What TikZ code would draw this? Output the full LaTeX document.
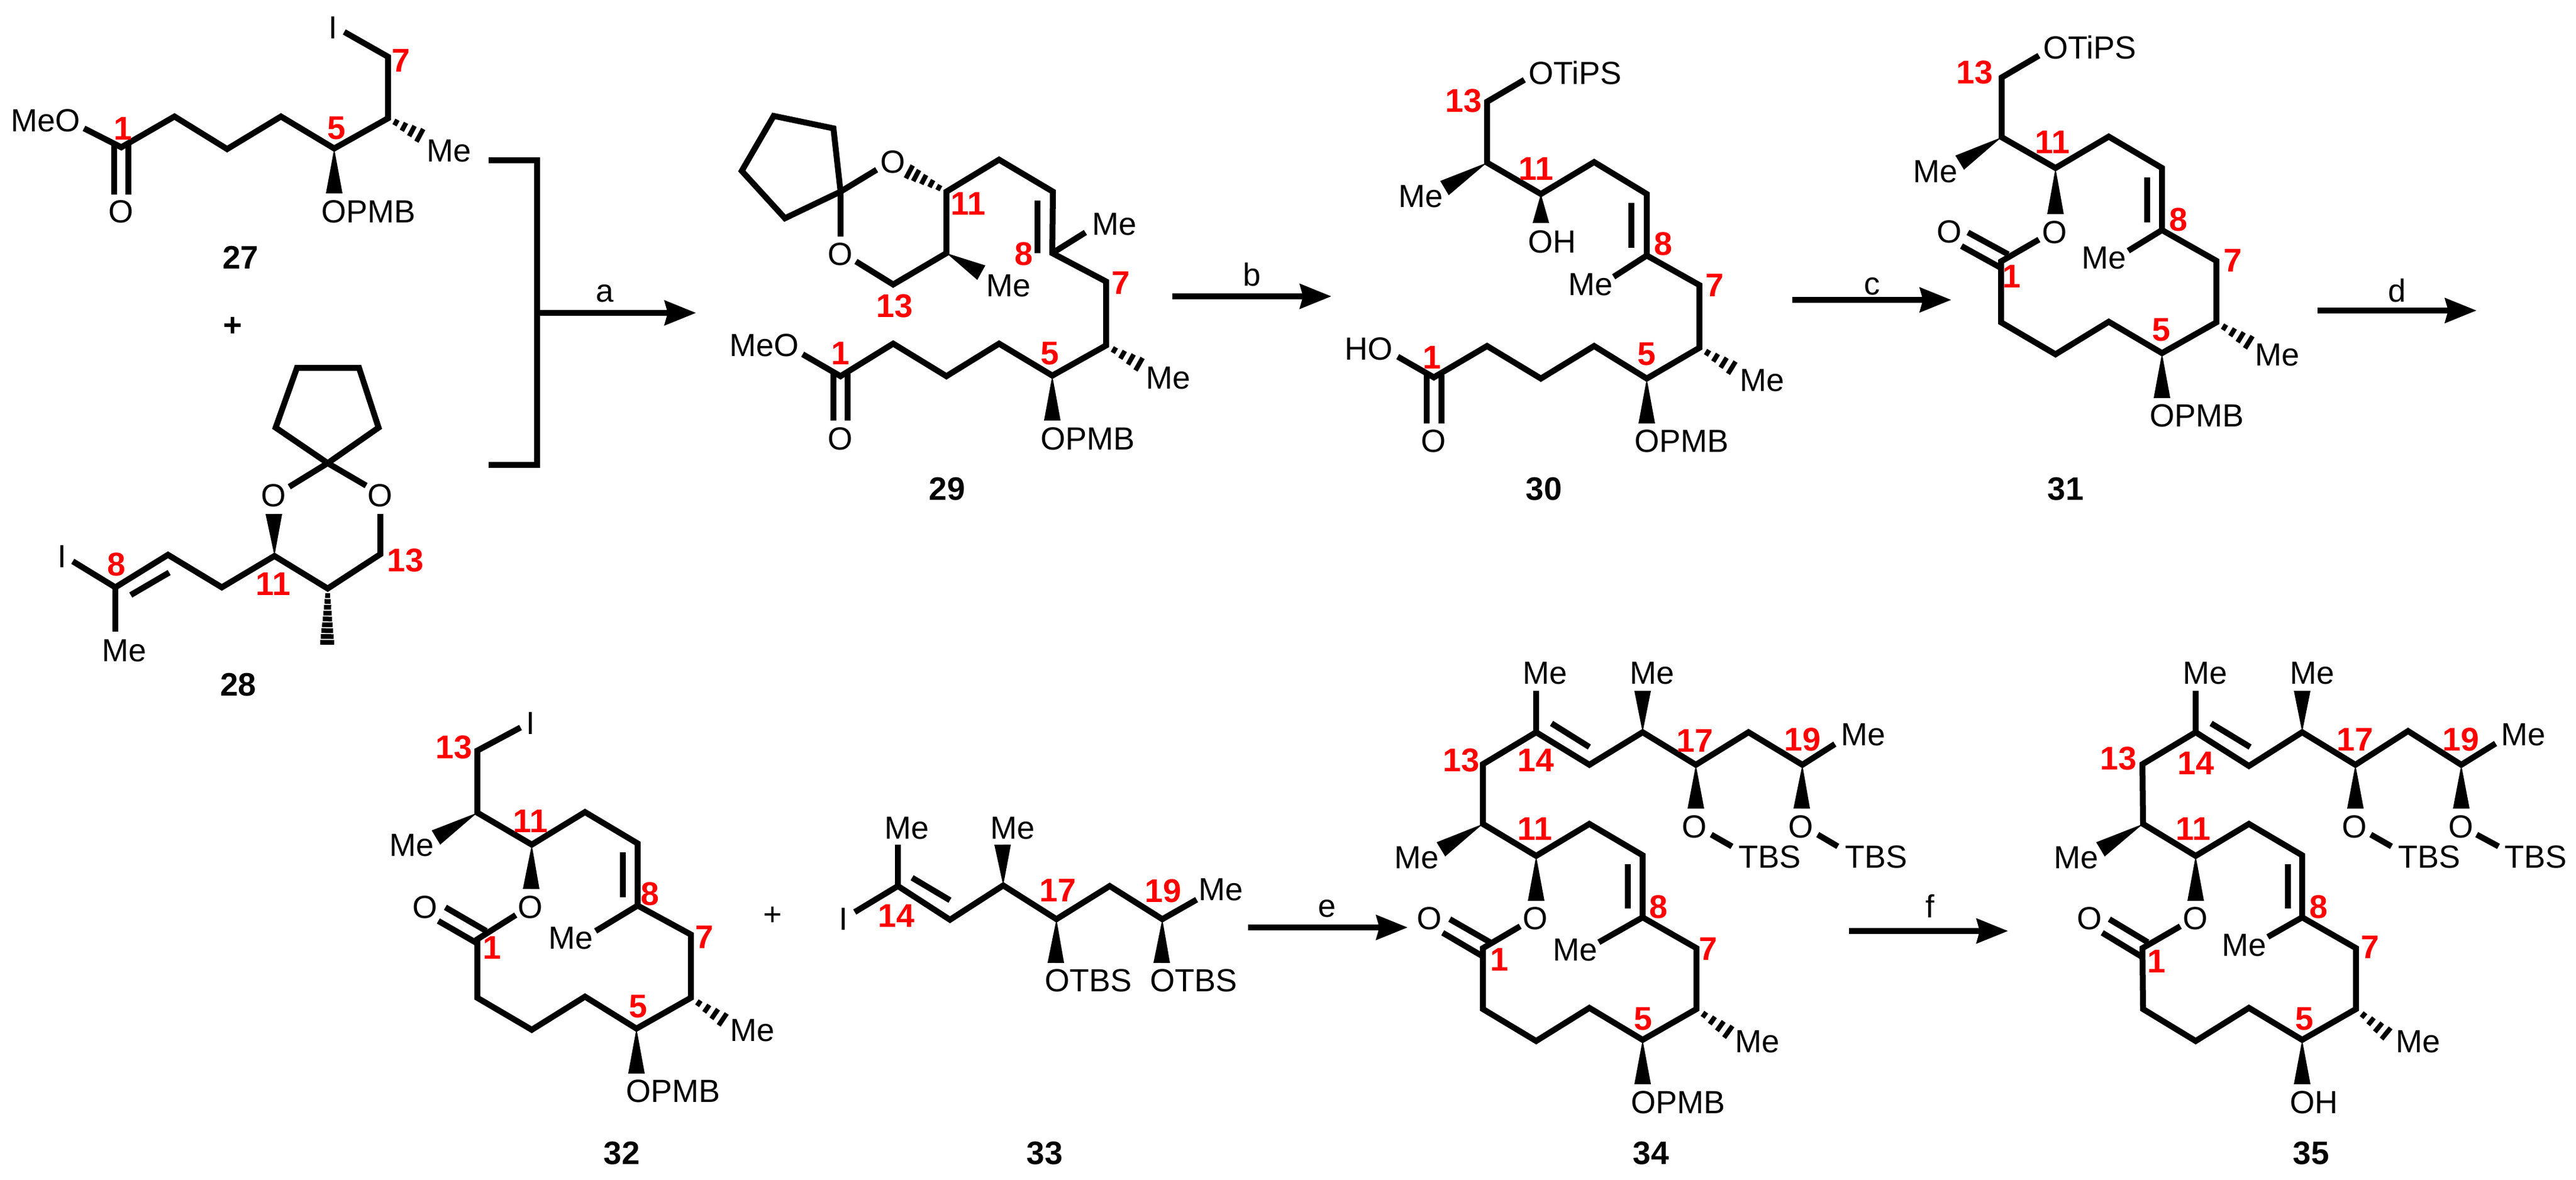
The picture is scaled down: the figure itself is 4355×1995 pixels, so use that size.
\documentclass[tikz,border=0pt]{standalone}
\usepackage{fontspec}
\setmainfont{Liberation Sans}
\usetikzlibrary{calc,arrows.meta}
\definecolor{numred}{RGB}{255,0,0}
\tikzset{
  bond/.style={line width=0.1cm,line join=miter,line cap=butt,black},
  hashline/.style={line width=0.08cm,black},
  rxn/.style={line width=0.1cm,black,-{Stealth[length=0.53cm,width=0.41cm,inset=0.05cm]}},
  bracket/.style={line width=0.1cm,black,line join=miter},
  atom/.style={inner sep=0pt,font=\fontsize{15.4}{16}\selectfont},
  num/.style={inner sep=0pt,text=numred,font=\fontsize{15.8}{16}\selectfont\bfseries},
  cmpd/.style={inner sep=0pt,font=\fontsize{15.6}{16}\selectfont\bfseries},
  cond/.style={inner sep=0pt,font=\fontsize{15.4}{16}\selectfont},
}
\newcommand\atm[3]{\node[atom] (#1) at (#2) {#3};}
\newcommand\nm[3]{\node[num] (#1) at (#2) {#3};}
\newcommand\wdg[2]{\fill[black] (#1) -- ($(#2)!0.14cm!90:(#1)$) -- ($(#2)!0.14cm!-90:(#1)$) -- cycle;}
\newcommand\hsh[3][0.24,0.48,0.72,0.96]{\foreach \t in {#1}{%
  \coordinate (hc) at ($(#2)!\t!(#3)$);
  \draw[hashline] ($(hc)!{(0.03+0.095*\t)*1cm}!90:(#3)$) -- ($(hc)!{(0.03+0.095*\t)*1cm}!-90:(#3)$);}}
\begin{document}
\begin{tikzpicture}[x=0.01cm,y=-0.01cm]
\fill[white] (0,0) rectangle (4355,1995);
\useasboundingbox (0,0) rectangle (4355,1995);

%% 27
\draw[bond] (582,54) -- (656,96) -- (656,200) -- (565,251) -- (475,197) -- (384,252) -- (295,197) -- (205,249) -- (142,217);
\draw[bond] (193,245) -- (193,329);
\draw[bond] (217,245) -- (217,329);
\wdg{565,251}{565,327}
\hsh{656,200}{712,230}
\atm{a27i}{563,47}{I}
\atm{a27me}{759,255}{Me}
\atm{a27meo}{77,204}{MeO}
\atm{a27o}{205,358}{O}
\atm{a27opmb}{623,358}{OPMB}
\nm{n27a}{208,217}{1}
\nm{n27b}{569,217}{5}
\nm{n27c}{678,102}{7}
\node[cmpd] (c27) at (407,435) {27};
\node[cmpd] (plus1) at (394,552) {+};

%% 28
\draw[bond] (554,783) -- (466,723) -- (502,622) -- (607,622) -- (640,723) -- cycle;
\draw[bond] (489,823) -- (554,783) -- (619,821);
\draw[bond] (643,869) -- (643,937) -- (554,995) -- (464,940) -- (375,993) -- (284,938) -- (195,993) -- (123,949);
\draw[bond] (195,993) -- (195,1068);
\draw[bond] (221,1006) -- (286,968);
\wdg{464,940}{463,869}
\hsh[0.12,0.22,...,0.98]{554,995}{553,1094}
\atm{a28ol}{463,838}{O}
\atm{a28or}{643,838}{O}
\atm{a28i}{105,941}{I}
\atm{a28me}{210,1100}{Me}
\nm{n28a}{197,954}{8}
\nm{n28b}{462,987}{11}
\nm{n28c}{685,947}{13}
\node[cmpd] (c28) at (403,1158) {28};

%% bracket and arrow a
\coordinate (brt) at (826,271);
\coordinate (brtc) at (908,271);
\coordinate (brb) at (826,786);
\coordinate (brbc) at (908,786);
\draw[bracket] (brt) -- (brtc) -- (brbc) -- (brb);
\coordinate (as) at (908,529);
\coordinate (at) at (1177,529);
\draw[rxn] (as) -- (at);
\node[cond] (la) at (1023,496) {a};

%% 29
\draw[bond] (1421,324) -- (1409,217) -- (1308,196) -- (1254,289) -- (1327,369) -- cycle;
\draw[bond] (1482,287) -- (1421,324) -- (1421,400);
\draw[bond] (1447,442) -- (1510,481) -- (1600,428) -- (1600,324) -- (1689,270) -- (1780,324) -- (1779,428) -- (1870,476) -- (1870,584) -- (1779,635) -- (1689,581) -- (1600,636) -- (1510,581) -- (1421,636) -- (1357,599);
\draw[bond] (1779,428) -- (1835,393);
\draw[bond] (1754,339) -- (1754,428);
\draw[bond] (1409,632) -- (1409,711);
\draw[bond] (1433,632) -- (1433,711);
\hsh[0.2,0.4,0.6,0.8,0.98]{1600,324}{1536,290}
\hsh{1870,584}{1928,617}
\wdg{1600,428}{1659,461}
\wdg{1779,635}{1779,711}
\atm{a29ot}{1510,274}{O}
\atm{a29ob}{1421,430}{O}
\atm{a29me1}{1884,379}{Me}
\atm{a29me2}{1705,483}{Me}
\atm{a29me3}{1975,639}{Me}
\atm{a29meo}{1292,584}{MeO}
\atm{a29o}{1421,742}{O}
\atm{a29opmb}{1839,742}{OPMB}
\nm{n29a}{1637,344}{11}
\nm{n29b}{1731,429}{8}
\nm{n29c}{1895,478}{7}
\nm{n29d}{1512,517}{13}
\nm{n29e}{1421,597}{1}
\nm{n29f}{1775,598}{5}
\node[cmpd] (c29) at (1601,827) {29};

%% arrow b
\coordinate (bs) at (1982,501);
\coordinate (bt) at (2251,501);
\draw[rxn] (bs) -- (bt);
\node[cond] (lb) at (2117,464) {b};

%% 30
\draw[bond] (2577,135) -- (2514,172) -- (2514,275) -- (2605,328) -- (2695,274) -- (2784,328) -- (2784,432) -- (2873,482) -- (2873,588) -- (2784,640) -- (2695,585) -- (2605,640) -- (2514,585) -- (2424,638) -- (2363,603);
\draw[bond] (2784,432) -- (2728,468);
\draw[bond] (2758,343) -- (2758,419);
\draw[bond] (2412,634) -- (2412,716);
\draw[bond] (2437,634) -- (2437,716);
\wdg{2514,275}{2442,318}
\wdg{2605,328}{2605,377}
\wdg{2784,640}{2784,716}
\hsh{2873,588}{2930,623}
\atm{a30tips}{2663,123}{OTiPS}
\atm{a30me1}{2402,332}{Me}
\atm{a30oh}{2624,409}{OH}
\atm{a30me2}{2689,481}{Me}
\atm{a30me3}{2979,643}{Me}
\atm{a30ho}{2314,590}{HO}
\atm{a30o}{2424,746}{O}
\atm{a30opmb}{2843,746}{OPMB}
\nm{n30a}{2474,170}{13}
\nm{n30b}{2597,285}{11}
\nm{n30c}{2812,412}{8}
\nm{n30d}{2899,482}{7}
\nm{n30e}{2784,599}{5}
\nm{n30f}{2421,604}{1}
\node[cmpd] (c30) at (2610,827) {30};

%% arrow c
\coordinate (cs) at (3030,507);
\coordinate (ct) at (3299,507);
\draw[rxn] (cs) -- (ct);
\node[cond] (lc) at (3165,484) {c};

%% 31
\draw[bond] (3447,94) -- (3384,131) -- (3384,232) -- (3475,284) -- (3565,231) -- (3655,284) -- (3655,389) -- (3747,441) -- (3747,545) -- (3655,597) -- (3565,544) -- (3475,599) -- (3383,545) -- (3383,442) -- (3447,405);
\draw[bond] (3655,389) -- (3598,424);
\draw[bond] (3630,300) -- (3630,376);
\draw[bond] (3327,393) -- (3395,430);
\draw[bond] (3316,416) -- (3383,453);
\wdg{3384,232}{3313,275}
\wdg{3475,284}{3475,362}
\wdg{3655,597}{3655,673}
\hsh{3747,545}{3804,580}
\atm{a31tips}{3533,80}{OTiPS}
\atm{a31me1}{3272,290}{Me}
\atm{a31oe}{3474,393}{O}
\atm{a31o}{3296,392}{O}
\atm{a31me2}{3557,436}{Me}
\atm{a31me3}{3850,600}{Me}
\atm{a31opmb}{3714,703}{OPMB}
\nm{n31a}{3338,122}{13}
\nm{n31b}{3470,240}{11}
\nm{n31c}{3683,371}{8}
\nm{n31d}{3775,440}{7}
\nm{n31e}{3654,558}{5}
\nm{n31f}{3401,467}{1}
\node[cmpd] (c31) at (3492,827) {31};

%% arrow d
\coordinate (ds) at (3918,525);
\coordinate (dt) at (4187,525);
\draw[rxn] (ds) -- (dt);
\node[cond] (ld) at (4052,491) {d};

%% 32
\draw[bond] (880,1230) -- (807,1269) -- (807,1374) -- (899,1428) -- (989,1373) -- (1078,1426) -- (1078,1531) -- (1168,1580) -- (1168,1687) -- (1076,1739) -- (989,1685) -- (899,1741) -- (807,1687) -- (807,1588) -- (872,1547);
\draw[bond] (1078,1531) -- (1007,1574);
\draw[bond] (1053,1441) -- (1053,1517);
\draw[bond] (753,1534) -- (822,1574);
\draw[bond] (741,1557) -- (807,1595);
\wdg{807,1374}{737,1416}
\wdg{899,1428}{898,1503}
\wdg{1076,1739}{1076,1815}
\hsh{1168,1687}{1224,1725}
\atm{a32i}{897,1223}{I}
\atm{a32me1}{696,1429}{Me}
\atm{a32oe}{897,1534}{O}
\atm{a32o}{719,1534}{O}
\atm{a32me2}{965,1586}{Me}
\atm{a32me3}{1272,1742}{Me}
\atm{a32opmb}{1138,1845}{OPMB}
\nm{n32a}{767,1263}{13}
\nm{n32b}{897,1388}{11}
\nm{n32c}{1099,1511}{8}
\nm{n32d}{1191,1584}{7}
\nm{n32e}{1079,1702}{5}
\nm{n32f}{832,1602}{1}
\node[cmpd] (c32) at (1051,1950) {32};
\node[atom] (plus2) at (1306,1549) {+};

%% 33
\draw[bond] (1445,1542) -- (1518,1498) -- (1606,1555) -- (1696,1497) -- (1786,1554) -- (1876,1498) -- (1965,1554) -- (2023,1521);
\draw[bond] (1518,1498) -- (1518,1428);
\draw[bond] (1542,1484) -- (1606,1522);
\wdg{1696,1497}{1695,1428}
\wdg{1786,1554}{1785,1628}
\wdg{1965,1554}{1964,1628}
\atm{a33i}{1426,1554}{I}
\atm{a33me1}{1533,1400}{Me}
\atm{a33me2}{1712,1400}{Me}
\atm{a33me3}{2064,1504}{Me}
\atm{a33otbs1}{1840,1658}{OTBS}
\atm{a33otbs2}{2018,1658}{OTBS}
\nm{n33a}{1515,1548}{14}
\nm{n33b}{1788,1505}{17}
\nm{n33c}{1966,1506}{19}
\node[cmpd] (c33) at (1766,1950) {33};

%% arrow e
\coordinate (es) at (2110,1568);
\coordinate (et) at (2380,1568);
\draw[rxn] (es) -- (et);
\node[cond] (le) at (2244,1536) {e};

%% 34
\draw[bond] (2570,1566) -- (2507,1603) -- (2507,1706) -- (2597,1760) -- (2687,1704) -- (2777,1758) -- (2868,1706) -- (2868,1603) -- (2777,1551) -- (2777,1446) -- (2687,1393) -- (2597,1447) -- (2507,1393) -- (2507,1292) -- (2597,1238) -- (2687,1293) -- (2777,1238) -- (2867,1293) -- (2956,1238) -- (3047,1293) -- (3102,1258);
\draw[bond] (2597,1238) -- (2597,1168);
\draw[bond] (2623,1223) -- (2687,1263);
\draw[bond] (2893,1411) -- (2928,1431);
\draw[bond] (3073,1411) -- (3107,1431);
\draw[bond] (2777,1551) -- (2703,1593);
\draw[bond] (2752,1461) -- (2752,1536);
\draw[bond] (2451,1554) -- (2519,1593);
\draw[bond] (2439,1577) -- (2507,1617);
\wdg{2777,1238}{2777,1168}
\wdg{2867,1293}{2867,1367}
\wdg{3047,1293}{3046,1367}
\wdg{2507,1393}{2436,1436}
\wdg{2597,1447}{2597,1523}
\wdg{2777,1758}{2777,1833}
\hsh{2868,1706}{2924,1746}
\atm{a34me1}{2612,1138}{Me}
\atm{a34me2}{2793,1138}{Me}
\atm{a34me3}{3150,1242}{Me}
\atm{a34o1}{2865,1398}{O}
\atm{a34o2}{3045,1398}{O}
\atm{a34tbs1}{2992,1449}{TBS}
\atm{a34tbs2}{3172,1449}{TBS}
\atm{a34me4}{2395,1450}{Me}
\atm{a34oe}{2596,1553}{O}
\atm{a34o}{2417,1553}{O}
\atm{a34me5}{2663,1606}{Me}
\atm{a34me6}{2971,1761}{Me}
\atm{a34opmb}{2837,1864}{OPMB}
\nm{n34a}{2470,1285}{13}
\nm{n34b}{2596,1285}{14}
\nm{n34c}{2865,1252}{17}
\nm{n34d}{3047,1250}{19}
\nm{n34e}{2595,1401}{11}
\nm{n34f}{2804,1533}{8}
\nm{n34g}{2888,1604}{7}
\nm{n34h}{2778,1723}{5}
\nm{n34i}{2535,1622}{1}
\node[cmpd] (c34) at (2791,1950) {34};

%% arrow f
\coordinate (fs) at (3126,1574);
\coordinate (ft) at (3395,1574);
\draw[rxn] (fs) -- (ft);
\node[cond] (lf) at (3263,1532) {f};

%% 35
\draw[bond] (3686,1566) -- (3622,1603) -- (3623,1706) -- (3712,1760) -- (3802,1704) -- (3892,1758) -- (3983,1706) -- (3983,1603) -- (3892,1551) -- (3892,1446) -- (3802,1393) -- (3712,1447) -- (3623,1393) -- (3622,1292) -- (3712,1238) -- (3802,1295) -- (3892,1238) -- (3982,1293) -- (4071,1236) -- (4161,1293) -- (4219,1257);
\draw[bond] (3712,1238) -- (3712,1168);
\draw[bond] (3738,1223) -- (3804,1263);
\draw[bond] (4008,1411) -- (4043,1431);
\draw[bond] (4187,1411) -- (4224,1431);
\draw[bond] (3892,1551) -- (3834,1584);
\draw[bond] (3868,1461) -- (3868,1536);
\draw[bond] (3566,1554) -- (3631,1593);
\draw[bond] (3554,1577) -- (3620,1617);
\wdg{3892,1238}{3892,1168}
\wdg{3982,1293}{3982,1367}
\wdg{4161,1293}{4161,1367}
\wdg{3623,1393}{3551,1436}
\wdg{3712,1447}{3712,1523}
\wdg{3892,1758}{3892,1833}
\hsh{3983,1706}{4036,1749}
\atm{a35me1}{3728,1138}{Me}
\atm{a35me2}{3909,1138}{Me}
\atm{a35me3}{4266,1242}{Me}
\atm{a35o1}{3981,1398}{O}
\atm{a35o2}{4160,1398}{O}
\atm{a35tbs1}{4107,1449}{TBS}
\atm{a35tbs2}{4287,1449}{TBS}
\atm{a35me4}{3510,1450}{Me}
\atm{a35oe}{3712,1553}{O}
\atm{a35o}{3533,1553}{O}
\atm{a35me5}{3794,1598}{Me}
\atm{a35me6}{4088,1761}{Me}
\atm{a35oh}{3912,1864}{OH}
\nm{n35a}{3581,1282}{13}
\nm{n35b}{3712,1290}{14}
\nm{n35c}{3981,1250}{17}
\nm{n35d}{4160,1250}{19}
\nm{n35e}{3708,1401}{11}
\nm{n35f}{3920,1533}{8}
\nm{n35g}{4007,1601}{7}
\nm{n35h}{3896,1723}{5}
\nm{n35i}{3646,1625}{1}
\node[cmpd] (c35) at (3907,1950) {35};
\end{tikzpicture}
\end{document}
